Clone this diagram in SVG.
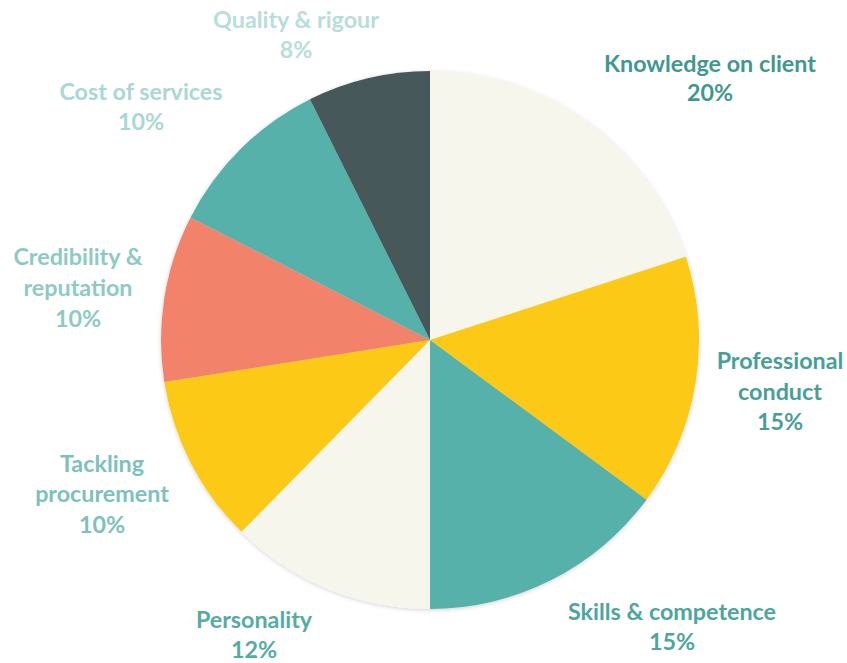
<svg xmlns="http://www.w3.org/2000/svg" width="847" height="663" viewBox="0 0 847 663">
<defs>
<style>
.lbl{font-family:"Lato","Open Sans","Liberation Sans",sans-serif;font-weight:bold;font-size:23.3px;text-anchor:middle}
.s{stroke:none}
</style>
<filter id="sh" x="-10%" y="-10%" width="120%" height="120%">
<feDropShadow dx="0" dy="1" stdDeviation="2" flood-color="#000" flood-opacity="0.18"/>
</filter>
</defs>
<rect width="847" height="663" fill="#fff"/>
<g id="pie" filter="url(#sh)">
<g id="knowledge"><path class="s" fill="#F7F6EC" d="M430,340 L430,71 A269,269 0 0 1 685.84,256.87 Z"/></g>
<g id="professional"><path class="s" fill="#FBC913" d="M430,340 L685.84,256.87 A269,269 0 0 1 646.52,499.63 Z"/></g>
<g id="skills"><path class="s" fill="#57B1AA" d="M430,340 L646.52,499.63 A269,269 0 0 1 430,609 Z"/></g>
<g id="personality"><path class="s" fill="#F7F6EC" d="M430,340 L430,609 A269,269 0 0 1 241.46,531.86 Z"/></g>
<g id="tackling"><path class="s" fill="#FBC913" d="M430,340 L241.46,531.86 A269,269 0 0 1 164.31,382.08 Z"/></g>
<g id="credibility"><path class="s" fill="#F2826B" d="M430,340 L164.31,382.08 A269,269 0 0 1 190.53,217.46 Z"/></g>
<g id="cost"><path class="s" fill="#57B1AA" d="M430,340 L190.53,217.46 A269,269 0 0 1 309.97,99.26 Z"/></g>
<g id="quality"><path class="s" fill="#46595A" d="M430,340 L309.97,99.26 A269,269 0 0 1 430,71 Z"/></g>
</g>
<g id="labels">
<text class="lbl" fill="#B8DEDA" x="296" y="28">Quality &amp; rigour</text>
<text class="lbl" fill="#B8DEDA" x="296" y="58">8%</text>
<text class="lbl" fill="#A8D8D3" x="141" y="100">Cost of services</text>
<text class="lbl" fill="#A8D8D3" x="141" y="130">10%</text>
<text class="lbl" fill="#8DCAC4" x="78" y="265">Credibility &amp;</text>
<text class="lbl" fill="#8DCAC4" x="78" y="296">reputation</text>
<text class="lbl" fill="#8DCAC4" x="78" y="327">10%</text>
<text class="lbl" fill="#3F9890" x="710" y="72">Knowledge on client</text>
<text class="lbl" fill="#3F9890" x="710" y="101">20%</text>
<text class="lbl" fill="#46A097" x="780" y="369">Professional</text>
<text class="lbl" fill="#46A097" x="780" y="400">conduct</text>
<text class="lbl" fill="#46A097" x="780" y="430">15%</text>
<text class="lbl" fill="#4CA69E" x="672" y="620">Skills &amp; competence</text>
<text class="lbl" fill="#4CA69E" x="672" y="650">15%</text>
<text class="lbl" fill="#55ACA5" x="254" y="628">Personality</text>
<text class="lbl" fill="#55ACA5" x="254" y="658">12%</text>
<text class="lbl" fill="#7CC2BC" x="102" y="472">Tackling</text>
<text class="lbl" fill="#7CC2BC" x="102" y="502">procurement</text>
<text class="lbl" fill="#7CC2BC" x="102" y="533">10%</text>
</g>
</svg>
